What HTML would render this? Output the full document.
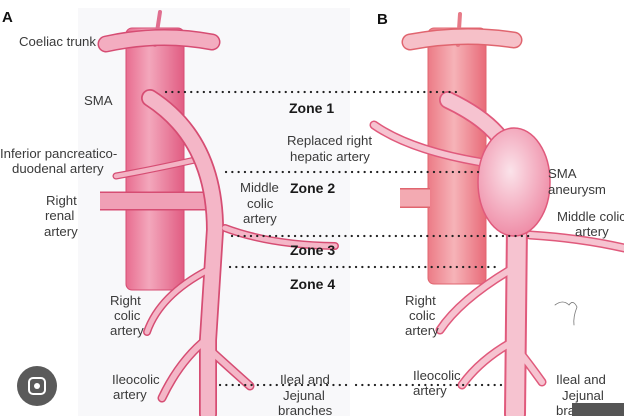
<!DOCTYPE html>
<html><head><meta charset="utf-8"><style>
html,body{margin:0;padding:0;background:#fff;}
svg{display:block;}
text{font-family:"Liberation Sans",Arial,sans-serif;fill:#3a3a3a;font-size:13.2px;}
.z{font-weight:bold;font-size:14px;fill:#1a1a1a;}
</style></head><body>
<svg width="624" height="416" viewBox="0 0 624 416" xmlns="http://www.w3.org/2000/svg">
<rect x="0" y="0" width="624" height="416" fill="#fff"/>
<rect x="78" y="8" width="272" height="408" fill="#f8f8fa"/>
<defs>
<linearGradient id="ao" x1="0" x2="1"><stop offset="0" stop-color="#e86d8f"/><stop offset="0.4" stop-color="#f3a7bc"/><stop offset="1" stop-color="#e15c82"/></linearGradient>
<linearGradient id="ao2" x1="0" x2="1"><stop offset="0" stop-color="#ec7b86"/><stop offset="0.45" stop-color="#f6b3b8"/><stop offset="1" stop-color="#e86a78"/></linearGradient>
<radialGradient id="an" cx="0.45" cy="0.4" r="0.6"><stop offset="0" stop-color="#fbe3ea"/><stop offset="1" stop-color="#ef8ea8"/></radialGradient>
</defs>
<g stroke-linecap="round" fill="none">
<!-- A -->
<rect x="126" y="28" width="58" height="262" rx="6" fill="url(#ao)" stroke="#d64d73" stroke-width="1"/>
<path d="M160 12 L155 45" stroke="#e06e8f" stroke-width="4"/>
<path d="M106 44 Q160 32 212 42" stroke="#d64d73" stroke-width="17"/>
<path d="M106 44 Q160 32 212 42" stroke="#f3adc0" stroke-width="14"/>
<path d="M100 201 L208 201" stroke="#d64d73" stroke-width="19" stroke-linecap="butt"/>
<path d="M100 201 L208 201" stroke="#f0a0b6" stroke-width="16" stroke-linecap="butt"/>
<path d="M195 160 Q150 170 116 176" stroke="#d64d73" stroke-width="7"/>
<path d="M195 160 Q150 170 116 176" stroke="#f3b3c4" stroke-width="4.5"/>
<g stroke="#d64d73">
<path d="M150 98 Q215 140 215 230 L208 340 L208 414" stroke-width="18"/>
<path d="M208 270 Q160 295 147 332" stroke-width="8"/>
<path d="M208 338 Q180 360 162 398" stroke-width="9"/>
<path d="M210 350 Q232 370 250 386" stroke-width="9"/>
<path d="M225 228 Q270 245 335 246" stroke-width="8"/>
</g>
<g stroke="#f4b6c7">
<path d="M150 98 Q215 140 215 230 L208 340 L208 414" stroke-width="14.5"/>
<path d="M208 270 Q160 295 147 332" stroke-width="5"/>
<path d="M208 338 Q180 360 162 398" stroke-width="6"/>
<path d="M210 350 Q232 370 250 386" stroke-width="6"/>
<path d="M225 228 Q270 245 335 246" stroke-width="5"/>
</g>
<!-- B -->
<rect x="428" y="28" width="58" height="256" rx="6" fill="url(#ao2)" stroke="#e0656f" stroke-width="1"/>
<path d="M460 14 L458 45" stroke="#e77b88" stroke-width="4"/>
<path d="M410 42 Q462 32 514 40" stroke="#e0656f" stroke-width="17"/>
<path d="M410 42 Q462 32 514 40" stroke="#f6c0c8" stroke-width="14"/>
<path d="M400 198 L430 198" stroke="#e0656f" stroke-width="20" stroke-linecap="butt"/>
<path d="M400 198 L430 198" stroke="#f3aab2" stroke-width="17" stroke-linecap="butt"/>
<g stroke="#e05a7c">
<path d="M374 125 Q410 150 480 162" stroke-width="9"/>
<path d="M448 100 Q490 120 505 145" stroke-width="18"/>
<path d="M517 225 L515 414" stroke-width="22"/>
<path d="M510 270 Q460 300 440 330" stroke-width="9"/>
<path d="M512 342 Q480 360 462 385" stroke-width="9"/>
<path d="M518 350 Q530 365 542 382" stroke-width="9"/>
<path d="M530 235 Q580 238 624 248" stroke-width="9"/>
</g>
<g stroke="#f6c3d0">
<path d="M374 125 Q410 150 480 162" stroke-width="6"/>
<path d="M448 100 Q490 120 505 145" stroke-width="14.5"/>
<path d="M517 225 L515 414" stroke-width="18"/>
<path d="M510 270 Q460 300 440 330" stroke-width="6"/>
<path d="M512 342 Q480 360 462 385" stroke-width="6"/>
<path d="M518 350 Q530 365 542 382" stroke-width="6"/>
<path d="M530 235 Q580 238 624 248" stroke-width="6"/>
</g>
<ellipse cx="514" cy="182" rx="36" ry="54" fill="url(#an)" stroke="#e05a7c" stroke-width="1.5"/>
<path d="M555 305 q8 -6 14 0 q4 -6 8 2 q-4 10 -3 18" stroke="#777" stroke-width="0.8"/>
<!-- dotted lines -->
<g stroke="#222" stroke-width="2.2" stroke-dasharray="0.1 6.2">
<path d="M166 92 H462"/>
<path d="M226 172 H478"/>
<path d="M232 236 H530"/>
<path d="M230 267 H498"/>
<path d="M220 385 H350 M356 385 H506"/>
</g>
</g>
<text x="2" y="22" style="font-weight:bold;font-size:15px;fill:#111">A</text>
<text x="377" y="24" style="font-weight:bold;font-size:15px;fill:#111">B</text>
<text x="19" y="46">Coeliac trunk</text>
<text x="84" y="105">SMA</text>
<text x="0" y="158">Inferior pancreatico-</text>
<text x="12" y="173">duodenal artery</text>
<text x="46" y="205">Right</text>
<text x="45" y="220">renal</text>
<text x="44" y="236">artery</text>
<text x="240" y="192">Middle</text>
<text x="247" y="208">colic</text>
<text x="243" y="223">artery</text>
<text class="z" x="289" y="113">Zone 1</text>
<text class="z" x="290" y="193">Zone 2</text>
<text class="z" x="290" y="255">Zone 3</text>
<text class="z" x="290" y="289">Zone 4</text>
<text x="287" y="145">Replaced right</text>
<text x="290" y="161">hepatic artery</text>
<text x="110" y="305">Right</text>
<text x="114" y="320">colic</text>
<text x="110" y="335">artery</text>
<text x="112" y="384">Ileocolic</text>
<text x="113" y="399">artery</text>
<text x="280" y="384">Ileal and</text>
<text x="283" y="400">Jejunal</text>
<text x="278" y="415">branches</text>
<text x="548" y="178">SMA</text>
<text x="548" y="194">aneurysm</text>
<text x="557" y="221">Middle colic</text>
<text x="575" y="236">artery</text>
<text x="405" y="305">Right</text>
<text x="409" y="320">colic</text>
<text x="405" y="335">artery</text>
<text x="413" y="380">Ileocolic</text>
<text x="413" y="395">artery</text>
<text x="556" y="384">Ileal and</text>
<text x="562" y="400">Jejunal</text>
<text x="556" y="415">branches</text>
<rect x="572" y="403" width="52" height="13" fill="#555"/>
<circle cx="37" cy="386" r="20" fill="#5a5a5a"/>
<rect x="29" y="378" width="16" height="16" rx="4" fill="none" stroke="#fff" stroke-width="2"/>
<circle cx="37" cy="386" r="3" fill="#fff"/>
</svg>
</body></html>
